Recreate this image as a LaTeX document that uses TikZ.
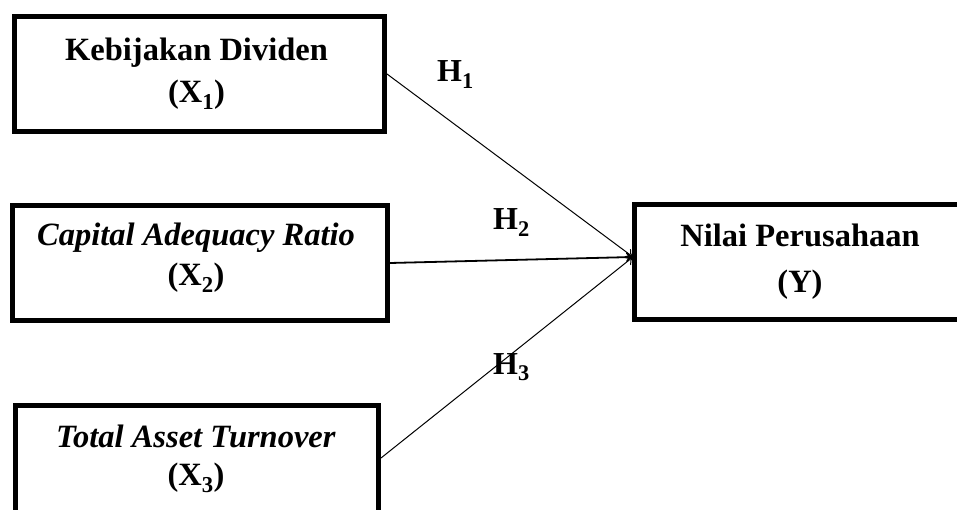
\documentclass[tikz,border=0pt]{standalone}
\usepackage{fontspec}
\setmainfont{Liberation Serif}
\usetikzlibrary{arrows.meta}
\begin{document}
\begin{tikzpicture}[x=1pt,y=-1pt,
  varbox/.style={draw=black, line width=5pt, rectangle, inner sep=0pt},
  lbl/.style={inner sep=0pt, align=center, text=black},
  hlbl/.style={inner sep=0pt, anchor=base west, font=\fontsize{32}{38}\selectfont\bfseries},
  path/.style={draw=black, line width=1pt, -{To[length=7pt,width=10pt]}}
]
\useasboundingbox[fill=white] (0,0) rectangle (957,510);

% boxes
\node[varbox, minimum width=370pt, minimum height=115pt] (x1) at (199.5,74) {};
\node[varbox, minimum width=375pt, minimum height=115pt] (x2) at (200,263) {};
\node[varbox, minimum width=363pt, minimum height=125pt] (x3) at (197,468) {};
\node[varbox, minimum width=331pt, minimum height=115pt] (y) at (800,262) {};

% texts
\node[lbl, font=\fontsize{32.5}{42}\selectfont\bfseries] (x1t) at (196.5,74)
  {Kebijakan Dividen\\(X\textsubscript{1})};
\node[lbl, font=\fontsize{32.5}{40}\selectfont\bfseries] (x2t) at (196,258)
  {\textit{Capital Adequacy Ratio}\\(X\textsubscript{2})};
\node[lbl, font=\fontsize{32.5}{38}\selectfont\bfseries] (x3t) at (196,459)
  {\textit{Total Asset Turnover}\\(X\textsubscript{3})};
\node[lbl, font=\fontsize{32.5}{46}\selectfont\bfseries] (yt) at (800,262)
  {Nilai Perusahaan\\(Y)};

% target point on Y box and start point on X3 box
\coordinate (yin) at (633,257);
\coordinate (x3out) at ([yshift=10pt]x3.east);

% connectors
\draw[path] (x1.east) -- (yin);
\draw[path, line width=1.8pt] (x2.east) -- (yin);
\draw[path] (x3out) -- (yin);

% hypothesis labels
\node[hlbl] (h1) at (437,82) {H\textsubscript{1}};
\node[hlbl] (h2) at (493,230) {H\textsubscript{2}};
\node[hlbl] (h3) at (493,374) {H\textsubscript{3}};
\end{tikzpicture}
\end{document}
